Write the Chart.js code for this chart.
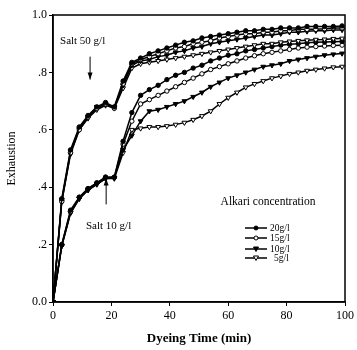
<!DOCTYPE html>
<html>
<head>
<meta charset="utf-8">
<script src="https://cdn.jsdelivr.net/npm/chart.js@4"></script>
<style>
  html, body { margin: 0; padding: 0; background: #fff; }
  #wrap { width: 357px; height: 350px; }
</style>
</head>
<body>
<div id="wrap"><canvas id="chart" width="357" height="350"></canvas></div>
<script>
// dyeing time (min)
const times = [0, 3, 6, 9, 12, 15, 18, 21, 24, 27, 30, 33, 36, 39, 42, 45, 48, 51, 54, 57, 60, 63, 66, 69, 72, 75, 78, 81, 84, 87, 90, 93, 96, 99];

// salt 50 g/l, upper group
const salt50_20 = [0, .36, .53, .61, .65, .68, .695, .68, .77, .835, .85, .865, .875, .885, .895, .905, .91, .92, .925, .93, .935, .94, .945, .945, .95, .95, .955, .955, .955, .96, .96, .96, .96, .962];
const salt50_15 = [0, .35, .52, .60, .645, .675, .69, .675, .76, .83, .845, .855, .865, .875, .885, .89, .90, .905, .91, .92, .925, .93, .935, .935, .94, .94, .945, .945, .95, .95, .95, .952, .955, .955];
const salt50_10 = [0, .355, .525, .605, .645, .68, .69, .68, .755, .825, .84, .845, .855, .86, .87, .875, .885, .89, .90, .905, .91, .915, .92, .925, .93, .93, .935, .94, .94, .943, .945, .945, .948, .948];
const salt50_5 = [0, .35, .515, .60, .64, .67, .685, .675, .745, .815, .83, .835, .84, .845, .85, .855, .86, .865, .87, .875, .88, .885, .89, .895, .90, .90, .905, .908, .91, .912, .914, .915, .917, .918];

// salt 10 g/l, lower group
const salt10_20 = [0, .20, .32, .365, .395, .415, .435, .435, .56, .66, .72, .74, .755, .775, .79, .80, .815, .825, .84, .85, .86, .865, .875, .88, .885, .89, .895, .898, .90, .903, .905, .906, .907, .908];
const salt10_15 = [0, .20, .315, .365, .395, .415, .435, .435, .55, .63, .69, .705, .72, .735, .75, .765, .78, .795, .81, .82, .83, .84, .85, .858, .865, .87, .875, .88, .885, .888, .89, .892, .894, .895];
const salt10_10 = [0, .195, .31, .36, .39, .41, .43, .432, .53, .58, .63, .665, .67, .68, .69, .70, .715, .73, .75, .765, .78, .79, .80, .81, .82, .825, .83, .84, .845, .85, .855, .86, .863, .866];
const salt10_5 = [0, .195, .31, .36, .39, .41, .43, .43, .52, .60, .605, .61, .61, .613, .618, .625, .635, .648, .665, .69, .712, .73, .748, .76, .77, .78, .787, .795, .80, .806, .81, .814, .818, .82];

const alkaliLabels = ["20g/l", "15g/l", "10g/l", "5g/l"];
const xTicks = [0, 20, 40, 60, 80, 100];
const yTicks = [0, 0.2, 0.4, 0.6, 0.8, 1.0];
const yTickText = ["0.0", ".2", ".4", ".6", ".8", "1.0"];

// marker style per alkali level
const markers = [
  { style: "circle", fill: "#000", rot: 0 },
  { style: "circle", fill: "#fff", rot: 0 },
  { style: "triangle", fill: "#000", rot: 180 },
  { style: "triangle", fill: "#fff", rot: 180 },
];

const serif = "'Liberation Serif', 'DejaVu Serif', serif";

function makeSet(values, i) {
  const m = markers[i];
  return {
    data: times.map((t, k) => ({ x: t, y: values[k] })),
    borderColor: "#000",
    borderWidth: 1.5,
    pointStyle: m.style,
    pointRotation: m.rot,
    pointRadius: m.style === "circle" ? 2.2 : 2.8,
    pointBackgroundColor: m.fill,
    pointBorderColor: "#000",
    pointBorderWidth: 1,
    tension: 0,
    showLine: true,
  };
}

const sets = [
  makeSet(salt50_20, 0), makeSet(salt50_15, 1), makeSet(salt50_10, 2), makeSet(salt50_5, 3),
  makeSet(salt10_20, 0), makeSet(salt10_15, 1), makeSet(salt10_10, 2), makeSet(salt10_5, 3),
];

// frame, annotations and the in-plot legend
const extras = {
  id: "extras",
  afterDraw(chart) {
    const ctx = chart.ctx;
    const a = chart.chartArea;
    const xs = chart.scales.x, ys = chart.scales.y;
    ctx.save();
    ctx.strokeStyle = "#000";
    ctx.lineWidth = 1.5;
    ctx.strokeRect(a.left, a.top, a.right - a.left, a.bottom - a.top);

    ctx.fillStyle = "#000";
    ctx.font = "11px " + serif;
    ctx.textBaseline = "middle";
    ctx.textAlign = "left";
    ctx.fillText("Salt 50 g/l", xs.getPixelForValue(2.4), ys.getPixelForValue(0.91));
    ctx.fillText("Salt 10 g/l", xs.getPixelForValue(11.3), ys.getPixelForValue(0.263));

    // arrows
    ctx.lineWidth = 1;
    const arrow = (t, v0, v1) => {
      const x = xs.getPixelForValue(t);
      const y0 = ys.getPixelForValue(v0), y1 = ys.getPixelForValue(v1);
      const d = y1 > y0 ? 1 : -1;
      ctx.beginPath();
      ctx.moveTo(x, y0);
      ctx.lineTo(x, y1);
      ctx.stroke();
      ctx.beginPath();
      ctx.moveTo(x, y1);
      ctx.lineTo(x - 2.5, y1 - d * 7);
      ctx.lineTo(x + 2.5, y1 - d * 7);
      ctx.closePath();
      ctx.fill();
    };
    arrow(12.7, 0.855, 0.775);
    arrow(18.2, 0.34, 0.43);

    // legend
    ctx.font = "11.5px " + serif;
    ctx.textAlign = "center";
    ctx.fillText("Alkari concentration", 268, 202);
    ctx.font = "9.5px " + serif;
    const rows = [228, 238, 249, 258];
    alkaliLabels.forEach((lab, i) => {
      const y = rows[i];
      ctx.lineWidth = 1.5;
      ctx.beginPath();
      ctx.moveTo(245, y);
      ctx.lineTo(267, y);
      ctx.stroke();
      const m = markers[i];
      ctx.lineWidth = 1;
      ctx.fillStyle = m.fill;
      ctx.beginPath();
      if (m.style === "circle") {
        ctx.arc(256, y, 2, 0, Math.PI * 2);
      } else {
        ctx.moveTo(253.5, y - 2);
        ctx.lineTo(258.5, y - 2);
        ctx.lineTo(256, y + 2.5);
        ctx.closePath();
      }
      ctx.fill();
      ctx.stroke();
      ctx.fillStyle = "#000";
      ctx.textAlign = "left";
      ctx.fillText(lab, i === 3 ? 274 : 270, y);
    });
    ctx.restore();
  },
};

new Chart(document.getElementById("chart"), {
  type: "scatter",
  data: { datasets: sets },
  options: {
    responsive: false,
    animation: false,
    layout: { padding: { left: 5, right: 12, top: 15, bottom: 0 } },
    plugins: { legend: { display: false }, tooltip: { enabled: false } },
    scales: {
      x: {
        type: "linear",
        min: 0,
        max: 100,
        afterFit: (s) => { s.height = 48; },
        afterBuildTicks: (s) => { s.ticks = xTicks.map((v) => ({ value: v })); },
        grid: { display: true, drawOnChartArea: false, tickLength: 4, color: "#000" },
        border: { color: "#000", width: 1.5 },
        ticks: { color: "#000", font: { family: serif, size: 12 }, padding: 3 },
        title: {
          display: true,
          text: "Dyeing Time (min)",
          color: "#000",
          font: { family: serif, size: 13, weight: "bold" },
          padding: { top: 5, bottom: 4 },
        },
      },
      y: {
        min: 0,
        max: 1,
        afterFit: (s) => { s.width = 48; },
        afterBuildTicks: (s) => { s.ticks = yTicks.map((v) => ({ value: v })); },
        grid: { display: true, drawOnChartArea: false, tickLength: 4, color: "#000" },
        border: { color: "#000", width: 1.5 },
        ticks: {
          color: "#000",
          font: { family: serif, size: 12 },
          padding: 2,
          callback: (v) => yTickText[yTicks.indexOf(v)] ?? "",
        },
        title: {
          display: true,
          text: "Exhaustion",
          color: "#000",
          font: { family: serif, size: 12 },
          padding: { top: 0, bottom: 2 },
        },
      },
    },
  },
  plugins: [extras],
});
</script>
</body>
</html>
